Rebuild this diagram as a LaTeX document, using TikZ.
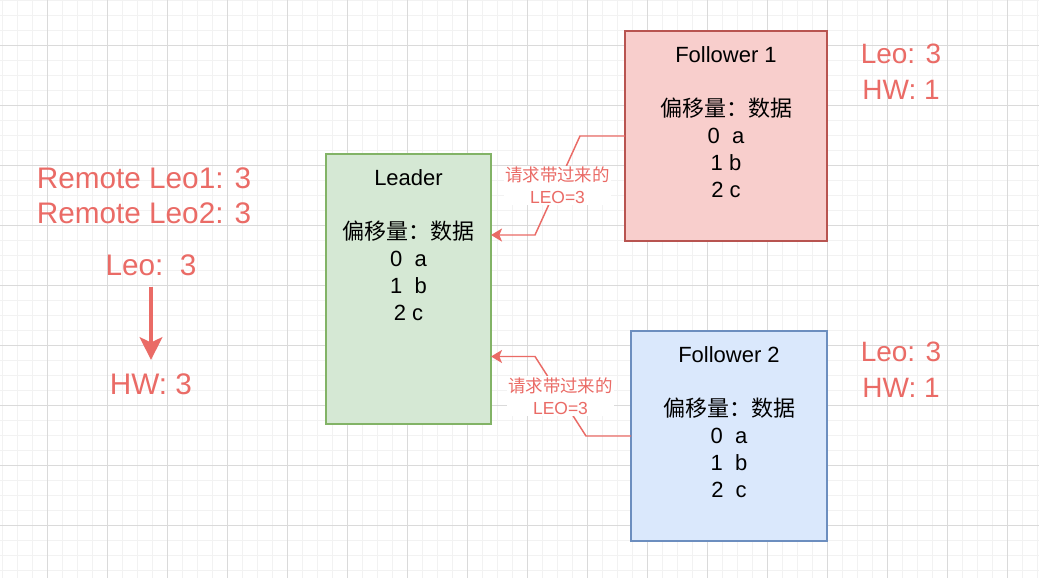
\documentclass[tikz,border=0pt]{standalone}
\usepackage{fontspec}
\setmainfont{Liberation Sans}
\newfontfamily\cjk{Noto Sans CJK SC}
\usetikzlibrary{arrows.meta,calc}
\definecolor{redtxt}{HTML}{EA6B66}
\definecolor{lfill}{HTML}{D5E8D4}
\definecolor{lstroke}{HTML}{82B366}
\definecolor{fonefill}{HTML}{F8CECC}
\definecolor{fonestroke}{HTML}{B85450}
\definecolor{ftwofill}{HTML}{DAE8FC}
\definecolor{ftwostroke}{HTML}{6C8EBF}
\definecolor{gridminorc}{HTML}{F2F2F2}
\definecolor{gridmajorc}{HTML}{DADADA}
\begin{document}
\begin{tikzpicture}[x=0.75pt,y=-0.75pt,
  gridminor/.style={draw=gridminorc, line width=0.75pt},
  gridmajor/.style={draw=gridmajorc, line width=0.75pt},
  box/.style={draw, line width=1.1pt, inner sep=0pt, outer sep=0pt, anchor=north west},
  boxtext/.style={font=\fontsize{16.5}{20.25}\selectfont, align=center, inner sep=0pt, anchor=north},
  redbig/.style={text=redtxt, font=\fontsize{22.3}{26.25}\selectfont, align=center, inner sep=0pt},
  redside/.style={text=redtxt, font=\fontsize{21}{27}\selectfont, align=center, inner sep=0pt},
  elabel/.style={text=redtxt, fill=white, font=\fontsize{13.1}{16.5}\selectfont, align=center, inner sep=1pt},
  edge/.style={draw=redtxt, line width=1.1pt, -{Stealth[length=8.25pt,width=9.75pt,inset=2pt]}},
  bigarrow/.style={draw=redtxt, line width=3pt, -{Stealth[length=17pt,width=17pt,inset=4pt]}}
]
\useasboundingbox (0,0) rectangle (1039,578);
\fill[white] (0,0) rectangle (1039,578);
\begin{scope}
  \clip (0,0) rectangle (1039,578);
  \foreach \i in {0,...,69} \draw[gridminor] ({2.3+15*\i},0) -- ({2.3+15*\i},578);
  \foreach \j in {0,...,38} \draw[gridminor] (0,{15*\j}) -- (1039,{15*\j});
  \foreach \i in {0,...,17} \draw[gridmajor] ({47.3+60*\i},0) -- ({47.3+60*\i},578);
  \foreach \j in {0,...,9} \draw[gridmajor] (0,{45+60*\j}) -- (1039,{45+60*\j});
\end{scope}

% boxes
\node[box, fill=lfill, draw=lstroke, minimum width=123.75pt, minimum height=202.5pt] (leader) at (326,154) {};
\node[boxtext] (leadertxt) at ([yshift=-11.25pt]leader.north)
  {Leader\\[20.25pt]{\cjk 偏移量：数据}\\0\ \ a\\1\ \ b\\2 c};

\node[box, fill=fonefill, draw=fonestroke, minimum width=151.5pt, minimum height=157.5pt] (f1) at (625,31) {};
\node[boxtext] (f1txt) at ([yshift=-11.25pt]f1.north)
  {Follower 1\\[20.25pt]{\cjk 偏移量：数据}\\0\ \ a\\1 b\\2 c};

\node[box, fill=ftwofill, draw=ftwostroke, minimum width=147pt, minimum height=157.5pt] (f2) at (631,331) {};
\node[boxtext] (f2txt) at ([yshift=-11.25pt]f2.north)
  {Follower 2\\[20.25pt]{\cjk 偏移量：数据}\\0\ \ a\\1\ \ b\\2\ \ c};

% red status labels
\node[redbig] (remote) at (144,195.5) {Remote Leo1: 3\\Remote Leo2: 3};
\node[redbig] (leo) at (151,265) {Leo:\ \ 3};
\node[redbig] (hw) at (151,384) {HW: 3};
\node[redside] (f1st) at (901,72) {Leo: 3\\HW: 1};
\node[redside] (f2st) at (901,369.5) {Leo: 3\\HW: 1};

\draw[bigarrow, shorten <=8.6pt, shorten >=10pt] (leo) -- (hw);

% connectors
\coordinate (e1a) at (580,136);
\coordinate (e1b) at (535,235);
\coordinate (e1end) at ($(leader.north east)!0.3!(leader.south east)$);
\draw[edge] (f1.west) -- (e1a) -- node[elabel] (lab1) {{\cjk 请求带过来的}\\LEO=3} (e1b) -- (e1end);

\coordinate (e2a) at (586,436);
\coordinate (e2b) at (535,356.5);
\coordinate (e2end) at ($(leader.north east)!0.75!(leader.south east)$);
\draw[edge] (f2.west) -- (e2a) -- node[elabel] (lab2) {{\cjk 请求带过来的}\\LEO=3} (e2b) -- (e2end);
\end{tikzpicture}
\end{document}
